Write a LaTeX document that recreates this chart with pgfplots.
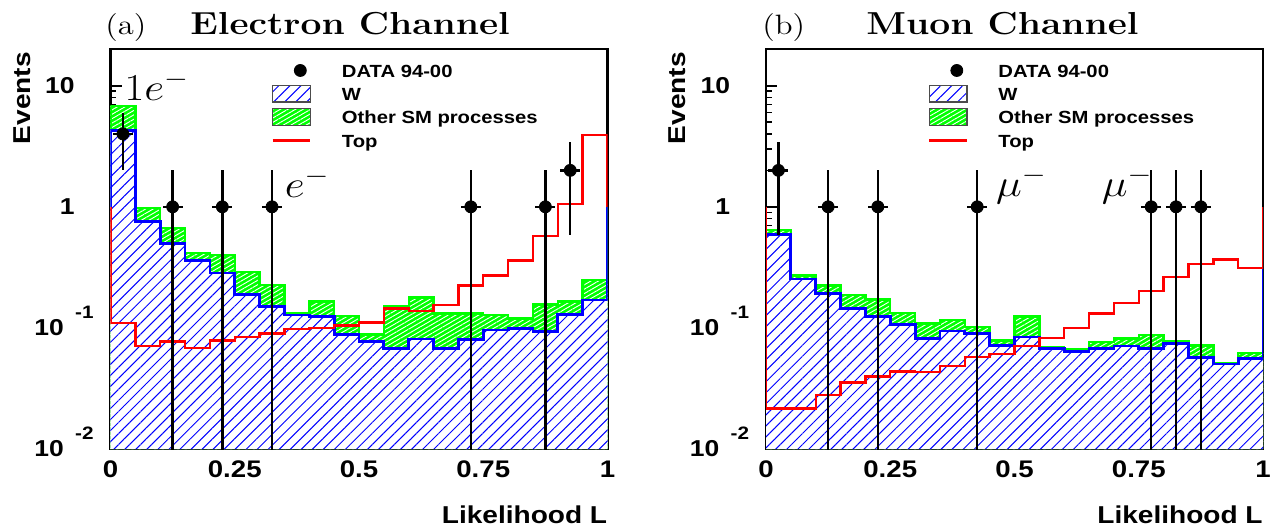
\RequirePackage{fix-cm}
\documentclass[border=0pt]{standalone}
\usepackage{fontspec}
\usepackage{graphicx}
\usepackage{pgfplots}
\pgfplotsset{compat=1.18}
\usepackage{pgfplotstable}
\usetikzlibrary{patterns,patterns.meta}
\newfontfamily\hv[FakeStretch=1.15]{Liberation Sans}

\definecolor{hgreen}{RGB}{0,255,0}
\definecolor{hblue}{RGB}{0,0,255}
\definecolor{hred}{RGB}{255,0,0}

% panel (a): electron channel ; columns: bin low edge, W, W+other, top, fill versions
\pgfplotstableread{
x     w      wo     top     wf     wof
0     1      1      1       0.01   0.01
0     4.3    6.8    0.110   4.3    6.8
0.05  0.755  0.98   0.071   0.755  0.98
0.10  0.50   0.67   0.0775  0.50   0.67
0.15  0.36   0.416  0.068   0.36   0.416
0.20  0.284  0.40   0.079   0.284  0.40
0.25  0.19   0.29   0.084   0.19   0.29
0.30  0.150  0.226  0.090   0.150  0.226
0.35  0.128  0.132  0.0975  0.128  0.132
0.40  0.124  0.165  0.100   0.124  0.165
0.45  0.088  0.125  0.105   0.088  0.125
0.50  0.0774 0.088  0.111   0.0774 0.088
0.55  0.068  0.150  0.145   0.068  0.150
0.60  0.081  0.178  0.138   0.081  0.178
0.65  0.068  0.132  0.155   0.068  0.132
0.70  0.080  0.132  0.224   0.080  0.132
0.75  0.096  0.128  0.271   0.096  0.128
0.80  0.099  0.120  0.360   0.099  0.120
0.85  0.094  0.156  0.573   0.094  0.156
0.90  0.129  0.165  1.05    0.129  0.165
0.95  0.170  0.250  3.93    0.170  0.250
1     0.170  0.250  3.93    0.170  0.250
1     1      1      1       0.01   0.01
}\tabA

% panel (b): muon channel
\pgfplotstableread{
x     w      wo     top     wf     wof
0     1      1      1       0.01   0.01
0     0.59   0.64   0.0216  0.59   0.64
0.05  0.253  0.27   0.0216  0.253  0.27
0.10  0.193  0.224  0.0278  0.193  0.224
0.15  0.145  0.187  0.0355  0.145  0.187
0.20  0.125  0.172  0.0398  0.125  0.172
0.25  0.1066 0.133  0.0435  0.1066 0.133
0.30  0.0815 0.1087 0.043   0.0815 0.1087
0.35  0.0944 0.116  0.0482  0.0944 0.116
0.40  0.0897 0.102  0.0573  0.0897 0.102
0.45  0.0718 0.079  0.061   0.0718 0.079
0.50  0.084  0.124  0.0708  0.084  0.124
0.55  0.068  0.069  0.0826  0.068  0.069
0.60  0.064  0.067  0.100   0.064  0.067
0.65  0.068  0.0764 0.1315  0.068  0.0764
0.70  0.0708 0.0815 0.160   0.0708 0.0815
0.75  0.068  0.087  0.202   0.068  0.087
0.80  0.074  0.078  0.264   0.074  0.078
0.85  0.0566 0.0718 0.336   0.0566 0.0718
0.90  0.0504 0.051  0.367   0.0504 0.051
0.95  0.056  0.062  0.313   0.056  0.062
1     0.056  0.062  0.313   0.056  0.062
1     1      1      1       0.01   0.01
}\tabB

% y tick labels: fixed-width boxes, right edge 8.25pt left of the axis
\newcommand\ylabE[1]{\makebox[40pt][r]{10\kern5.7pt\raisebox{8.5pt}[0pt][0pt]{\fontsize{9}{10}\selectfont #1}}}
\newcommand\ylabP[1]{\makebox[40pt][r]{#1\kern9.5pt}}
\newcommand\tickfont{\fontsize{12}{14}\selectfont\hv\bfseries}
\newcommand\ytickfont{\fontsize{11.5}{13}\selectfont\hv\bfseries}
\newcommand\labfont{\fontsize{12.2}{14}\selectfont\hv\bfseries}
\newcommand\legfont{\fontsize{8.8}{11.85}\selectfont\hv\bfseries}

\tikzset{anno/.style={anchor=base west, inner sep=0pt, font=\fontsize{19}{22}\selectfont}}

\newcommand\mylegend{%
  \addlegendimage{legend image code/.code={\path[draw=none,fill=none] (0pt,-4.2pt) rectangle (18.8pt,4.2pt); \fill[black] (13.8pt,0pt) circle (3pt);}}
  \addlegendentry{\strut DATA 94-00}
  \addlegendimage{legend image code/.code={\fill[white] (0pt,-4.2pt) rectangle (18.8pt,4.2pt);
     \fill[pattern={Lines[angle=45,distance=3.9pt,line width=0.5pt]}, pattern color=hblue] (0pt,-4.2pt) rectangle (18.8pt,4.2pt);
     \draw[gray!60!black, line width=0.7pt] (0pt,-4.2pt) rectangle (18.8pt,4.2pt);}}
  \addlegendentry{\strut W}
  \addlegendimage{legend image code/.code={\fill[hgreen] (0pt,-4.2pt) rectangle (18.8pt,4.2pt);
     \fill[pattern={Lines[angle=30,distance=1.9pt,line width=0.45pt]}, pattern color=white] (0pt,-4.2pt) rectangle (18.8pt,4.2pt);
     \draw[gray!60!black, line width=0.7pt] (0pt,-4.2pt) rectangle (18.8pt,4.2pt);}}
  \addlegendentry{\strut Other SM processes}
  \addlegendimage{legend image code/.code={\path[draw=none,fill=none] (0pt,-4.2pt) rectangle (18.8pt,4.2pt); \draw[hred, line width=1.2pt] (0pt,0pt) -- (18.8pt,0pt);}}
  \addlegendentry{\strut Top}
}

\newcommand\panelplots[1]{%
  \addplot[forget plot, const plot, draw=none, fill=hgreen] table[x=x,y=wof]{#1};
  \addplot[forget plot, const plot, draw=none, pattern={Lines[angle=30,distance=1.9pt,line width=0.45pt]}, pattern color=white] table[x=x,y=wof]{#1};
  \addplot[forget plot, const plot, hgreen, line width=1.2pt] table[x=x,y=wo]{#1};
  \addplot[forget plot, const plot, draw=none, fill=white] table[x=x,y=wf]{#1};
  \addplot[forget plot, const plot, draw=none, pattern={Lines[angle=45,distance=3.9pt,line width=0.5pt]}, pattern color=hblue] table[x=x,y=wf]{#1};
  \addplot[forget plot, const plot, hblue, line width=1.4pt] table[x=x,y=w]{#1};
  \addplot[forget plot, const plot, hred, line width=1.2pt] table[x=x,y=top]{#1};
}

\begin{document}
\begin{tikzpicture}
\path[use as bounding box] (0,0) rectangle (639.5pt,265pt);

\begin{axis}[at={(55.25pt,40.5pt)}, anchor=south west,
    scale only axis, width=248.5pt, height=199.85pt,
    xmin=0, xmax=1, ymode=log, ymin=0.01, ymax=20,
    axis line style={line width=1.15pt},
    tick align=inside, xtick pos=left, ytick pos=left,
    xtick={0,0.25,0.5,0.75,1}, xticklabels={0,0.25,0.5,0.75,1},
    minor xtick={0.05,0.1,0.15,0.2,0.3,0.35,0.4,0.45,0.55,0.6,0.65,0.7,0.8,0.85,0.9,0.95},
    ytick={0.01,0.1,1,10},
    yticklabels={{\ylabE{-2}},{\ylabE{-1}},{\ylabP{1}},{\ylabP{10}}},
    minor ytick={0.02,0.03,0.04,0.05,0.06,0.07,0.08,0.09,0.2,0.3,0.4,0.5,0.6,0.7,0.8,0.9,2,3,4,5,6,7,8,9},
    major tick length=5.5pt, minor tick length=2.8pt,
    every tick/.append style={black, line width=0.8pt},
    xticklabel style={font=\tickfont, inner sep=0pt, anchor=north, yshift=-5.8pt},
    yticklabel style={font=\ytickfont, inner sep=0pt, anchor=east, xshift=-8.25pt},
    xlabel={Likelihood L}, ylabel={Events},
    xlabel style={at={(axis description cs:1,-0.140)}, anchor=north east, inner sep=0pt, font=\labfont},
    ylabel style={at={(axis description cs:-0.160,0.994)}, anchor=south east, inner sep=0pt, font=\labfont},
    legend style={at={(axis description cs:0.324,0.9815)}, anchor=north west, draw=none, fill=none,
       inner sep=0pt, outer sep=0pt, row sep=-2.15pt, font=\legfont,
       /tikz/every odd column/.append style={column sep=13.2pt}},
    legend cell align=left]
\mylegend
\panelplots{\tabA}
\addplot[forget plot, only marks, mark=*, mark size=3pt, black, mark options={fill=black},
    error bars/x dir=both, error bars/x explicit, error bars/y dir=both, error bars/y explicit,
    error bars/error mark=none, error bars/error bar style={line width=1.2pt, black}] coordinates {
 (0.025,4) += (0.02,2) -= (0.02,2)
 (0.125,1) += (0.02,1) -= (0.02,0.999)
 (0.225,1) += (0.02,1) -= (0.02,0.999)
 (0.325,1) += (0.02,1) -= (0.02,0.999)
 (0.725,1) += (0.02,1) -= (0.02,0.999)
 (0.875,1) += (0.02,1) -= (0.02,0.999)
 (0.925,2) += (0.02,1.414) -= (0.02,1.414)
};
\node[anno] at (axis cs:0.027,7.6) {\scalebox{1.15}[1]{$1e^-$}};
\node[anno] at (axis cs:0.350,1.2) {\scalebox{1.15}[1]{$e^-$}};
\end{axis}
\node[anchor=base west, inner sep=0pt] at (52.5pt,247.5pt) {\scalebox{1.17}[1]{\fontsize{14}{16}\selectfont (a)}};
\node[anchor=base west, inner sep=0pt] at (95pt,247.5pt) {\scalebox{1.17}[1]{\fontsize{15.9}{18}\selectfont\bfseries Electron Channel}};

\begin{axis}[at={(383pt,40.5pt)}, anchor=south west,
    scale only axis, width=248.5pt, height=199.85pt,
    xmin=0, xmax=1, ymode=log, ymin=0.01, ymax=20,
    axis line style={line width=1.15pt},
    tick align=inside, xtick pos=left, ytick pos=left,
    xtick={0,0.25,0.5,0.75,1}, xticklabels={0,0.25,0.5,0.75,1},
    minor xtick={0.05,0.1,0.15,0.2,0.3,0.35,0.4,0.45,0.55,0.6,0.65,0.7,0.8,0.85,0.9,0.95},
    ytick={0.01,0.1,1,10},
    yticklabels={{\ylabE{-2}},{\ylabE{-1}},{\ylabP{1}},{\ylabP{10}}},
    minor ytick={0.02,0.03,0.04,0.05,0.06,0.07,0.08,0.09,0.2,0.3,0.4,0.5,0.6,0.7,0.8,0.9,2,3,4,5,6,7,8,9},
    major tick length=5.5pt, minor tick length=2.8pt,
    every tick/.append style={black, line width=0.8pt},
    xticklabel style={font=\tickfont, inner sep=0pt, anchor=north, yshift=-5.8pt},
    yticklabel style={font=\ytickfont, inner sep=0pt, anchor=east, xshift=-8.25pt},
    xlabel={Likelihood L}, ylabel={Events},
    xlabel style={at={(axis description cs:1,-0.140)}, anchor=north east, inner sep=0pt, font=\labfont},
    ylabel style={at={(axis description cs:-0.160,0.994)}, anchor=south east, inner sep=0pt, font=\labfont},
    legend style={at={(axis description cs:0.326,0.9815)}, anchor=north west, draw=none, fill=none,
       inner sep=0pt, outer sep=0pt, row sep=-2.15pt, font=\legfont,
       /tikz/every odd column/.append style={column sep=13.2pt}},
    legend cell align=left]
\mylegend
\panelplots{\tabB}
\addplot[forget plot, only marks, mark=*, mark size=3pt, black, mark options={fill=black},
    error bars/x dir=both, error bars/x explicit, error bars/y dir=both, error bars/y explicit,
    error bars/error mark=none, error bars/error bar style={line width=1.2pt, black}] coordinates {
 (0.025,2) += (0.02,1.414) -= (0.02,1.414)
 (0.125,1) += (0.02,1) -= (0.02,0.999)
 (0.225,1) += (0.02,1) -= (0.02,0.999)
 (0.425,1) += (0.02,1) -= (0.02,0.999)
 (0.775,1) += (0.02,1) -= (0.02,0.999)
 (0.825,1) += (0.02,1) -= (0.02,0.999)
 (0.875,1) += (0.02,1) -= (0.02,0.999)
};
\node[anno] at (axis cs:0.462,1.22) {\scalebox{1.15}[1]{$\mu^-$}};
\node[anno] at (axis cs:0.675,1.22) {\scalebox{1.15}[1]{$\mu^-$}};
\end{axis}
\node[anchor=base west, inner sep=0pt] at (381pt,247.5pt) {\scalebox{1.17}[1]{\fontsize{14}{16}\selectfont (b)}};
\node[anchor=base west, inner sep=0pt] at (433pt,247.5pt) {\scalebox{1.17}[1]{\fontsize{15.9}{18}\selectfont\bfseries Muon Channel}};
\end{tikzpicture}
\end{document}
